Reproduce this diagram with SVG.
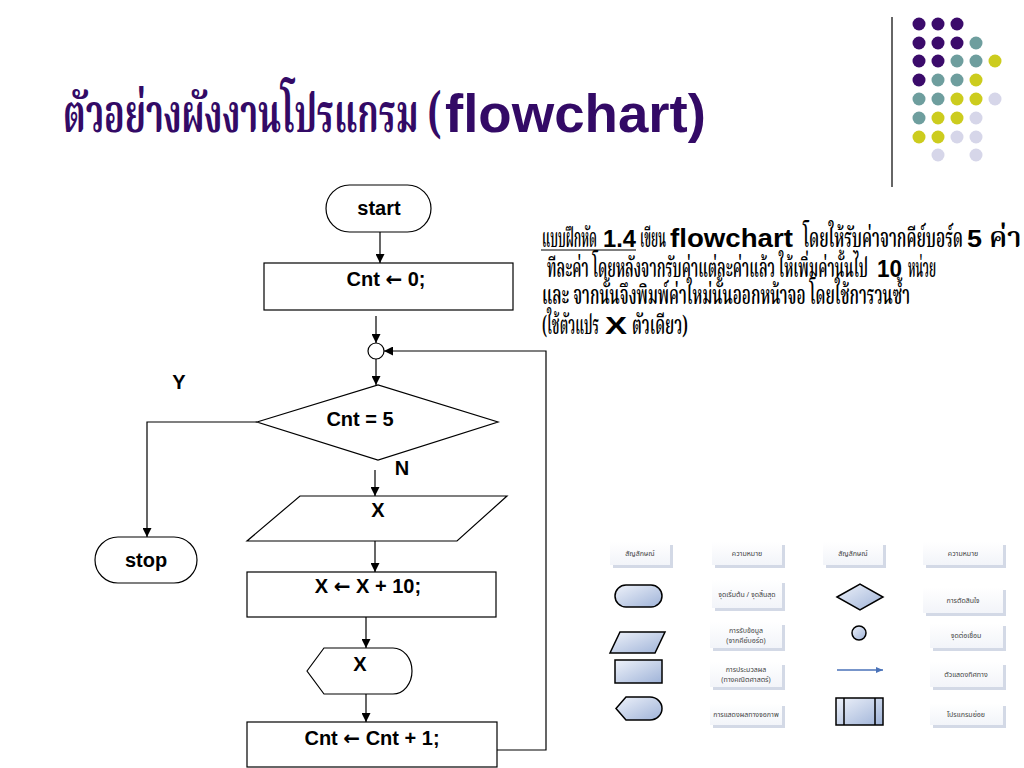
<svg xmlns="http://www.w3.org/2000/svg" width="1024" height="768" viewBox="0 0 1024 768">
<defs>
<marker id="ah" markerUnits="userSpaceOnUse" markerWidth="9" markerHeight="9" refX="9" refY="4.5" orient="auto">
<path d="M0,0 L9,4.5 L0,9 Z" fill="#000"/>
</marker>
<marker id="bh" markerUnits="userSpaceOnUse" markerWidth="7" markerHeight="6" refX="7" refY="3" orient="auto">
<path d="M0,0 L7,3 L0,6 Z" fill="#4a72b8"/>
</marker>
<linearGradient id="sym" x1="0" y1="0" x2="1" y2="1">
<stop offset="0" stop-color="#eef2fa"/>
<stop offset="1" stop-color="#9fb3d8"/>
</linearGradient>
<linearGradient id="box" x1="0" y1="0" x2="0" y2="1">
<stop offset="0" stop-color="#ffffff"/>
<stop offset="1" stop-color="#f2f4f9"/>
</linearGradient>
</defs>
<style>
.fc{fill:#fff;stroke:#000;stroke-width:1.2}
.ln{fill:none;stroke:#000;stroke-width:1.2}
.lbl{font-family:"Liberation Sans",Arial,sans-serif;font-weight:bold;font-size:20px;fill:#000;text-anchor:middle}
.arr{font-family:"DejaVu Sans",sans-serif;font-weight:bold}
.th{font-family:"Noto Serif Thai","Noto Sans Thai","Noto Sans",sans-serif;fill:#000;font-weight:600}
.en{font-family:"Liberation Sans",Arial,sans-serif;font-weight:bold;fill:#000}
.sym{fill:url(#sym);stroke:#000;stroke-width:1.5}
.sh{fill:#d3d9e6}
.bx{fill:url(#box)}
.tt{font-family:"Noto Sans Thai","Noto Serif Thai","Noto Sans",sans-serif;font-size:7px;fill:#444;text-anchor:middle}
.p{fill:#3b0b6b}.t{fill:#6e9e9e}.y{fill:#cccc1e}.l{fill:#d6d6e9}
</style>
<rect width="1024" height="768" fill="#fff"/>

<!-- decoration -->
<g id="decor">
<line x1="892" y1="17" x2="892" y2="187" stroke="#333" stroke-width="1.5"/>
<circle class="p" cx="919" cy="24" r="6.5"/><circle class="p" cx="938" cy="24" r="6.5"/><circle class="p" cx="957" cy="24" r="6.5"/>
<circle class="p" cx="919" cy="43" r="6.5"/><circle class="p" cx="938" cy="43" r="6.5"/><circle class="p" cx="957" cy="43" r="6.5"/><circle class="t" cx="976" cy="43" r="6.5"/>
<circle class="p" cx="919" cy="61" r="6.5"/><circle class="p" cx="938" cy="61" r="6.5"/><circle class="t" cx="957" cy="61" r="6.5"/><circle class="t" cx="976" cy="61" r="6.5"/><circle class="y" cx="995" cy="61" r="6.5"/>
<circle class="p" cx="919" cy="80" r="6.5"/><circle class="t" cx="938" cy="80" r="6.5"/><circle class="t" cx="957" cy="80" r="6.5"/><circle class="y" cx="976" cy="80" r="6.5"/>
<circle class="t" cx="919" cy="99" r="6.5"/><circle class="t" cx="938" cy="99" r="6.5"/><circle class="y" cx="957" cy="99" r="6.5"/><circle class="y" cx="976" cy="99" r="6.5"/><circle class="l" cx="995" cy="99" r="6.5"/>
<circle class="t" cx="919" cy="118" r="6.5"/><circle class="y" cx="938" cy="118" r="6.5"/><circle class="y" cx="957" cy="118" r="6.5"/><circle class="l" cx="976" cy="118" r="6.5"/>
<circle class="y" cx="919" cy="137" r="6.5"/><circle class="y" cx="938" cy="137" r="6.5"/><circle class="l" cx="957" cy="137" r="6.5"/><circle class="l" cx="976" cy="137" r="6.5"/>
<circle class="l" cx="938" cy="155" r="6.5"/><circle class="l" cx="976" cy="155" r="6.5"/>
</g>

<!-- title -->
<g id="title">
<text x="63" y="132" font-family="Noto Serif Thai,Noto Sans Thai,Noto Sans,sans-serif" font-weight="bold" font-size="54" fill="#330a66" textLength="378" lengthAdjust="spacingAndGlyphs">ตัวอย่างผังงานโปรแกรม (</text>
<text x="445" y="132" font-family="Liberation Sans,Arial,sans-serif" font-weight="bold" font-size="54" fill="#330a66" textLength="261" lengthAdjust="spacingAndGlyphs">flowchart)</text>
</g>

<!-- exercise text -->
<g id="exercise">
<text class="th" x="542" y="247" font-size="26" textLength="55" lengthAdjust="spacingAndGlyphs">แบบฝึกหัด</text>
<text class="en" x="603" y="247" font-size="24" textLength="33" lengthAdjust="spacingAndGlyphs">1.4</text>
<line x1="541" y1="250" x2="636" y2="250" stroke="#000" stroke-width="1.2"/>
<text class="th" x="640" y="247" font-size="26" textLength="26" lengthAdjust="spacingAndGlyphs">เขียน</text>
<text class="en" x="670" y="247" font-size="25" textLength="123" lengthAdjust="spacingAndGlyphs">flowchart</text>
<text class="th" x="803" y="247" font-size="26" textLength="160" lengthAdjust="spacingAndGlyphs">โดยให้รับค่าจากคีย์บอร์ด</text>
<text class="en" x="967" y="247" font-size="24" textLength="15" lengthAdjust="spacingAndGlyphs">5</text>
<text class="th" x="989" y="247" font-size="28">ค่า</text>
<text class="th" x="547" y="277" font-size="26" textLength="321" lengthAdjust="spacingAndGlyphs">ทีละค่า โดยหลังจากรับค่าแต่ละค่าแล้ว ให้เพิ่มค่านั้นไป</text>
<text class="en" x="877" y="277" font-size="24" textLength="25" lengthAdjust="spacingAndGlyphs">10</text>
<text class="th" x="908" y="277" font-size="26" textLength="28" lengthAdjust="spacingAndGlyphs">หน่วย</text>
<text class="th" x="542" y="304" font-size="26" textLength="368" lengthAdjust="spacingAndGlyphs">และ จากนั้นจึงพิมพ์ค่าใหม่นั้นออกหน้าจอ โดยใช้การวนซ้ำ</text>
<text class="th" x="542" y="334" font-size="26" textLength="57" lengthAdjust="spacingAndGlyphs">(ใช้ตัวแปร</text>
<text class="en" x="605" y="334" font-size="24" textLength="22" lengthAdjust="spacingAndGlyphs">X</text>
<text class="th" x="632" y="334" font-size="26" textLength="56" lengthAdjust="spacingAndGlyphs">ตัวเดียว)</text>
</g>

<!-- flowchart nodes -->
<g id="start"><rect class="fc" x="326" y="185" width="105" height="47" rx="23.5"/><text class="lbl" x="379" y="215">start</text></g>
<g id="init"><rect class="fc" x="264" y="263" width="249" height="47"/><text class="lbl" x="386" y="286">Cnt <tspan class="arr">←</tspan> 0;</text></g>
<g id="connector"><circle class="fc" cx="376" cy="351" r="8"/></g>
<g id="decision"><path class="fc" d="M257,422 L378,385 L498,422 L378,460 Z"/><text class="lbl" x="360" y="426">Cnt = 5</text></g>
<g id="labelY"><text class="lbl" x="179" y="389">Y</text></g>
<g id="labelN"><text class="lbl" x="402" y="475">N</text></g>
<g id="stop"><rect class="fc" x="95" y="537" width="102" height="46" rx="23"/><text class="lbl" x="146" y="567">stop</text></g>
<g id="input"><path class="fc" d="M300,496 L507,496 L457,541 L247,541 Z"/><text class="lbl" x="378" y="517">X</text></g>
<g id="process"><rect class="fc" x="247" y="572" width="249" height="45"/><text class="lbl" x="368" y="593">X <tspan class="arr">←</tspan> X + 10;</text></g>
<g id="display"><path class="fc" d="M307,671 L324,648 L393,648 A19,23 0 0 1 393,694 L324,694 Z"/><text class="lbl" x="360" y="671">X</text></g>
<g id="increment"><rect class="fc" x="247" y="722" width="250" height="45"/><text class="lbl" x="372" y="745">Cnt <tspan class="arr">←</tspan> Cnt + 1;</text></g>

<!-- connectors -->
<g id="connectors">
<path class="ln" d="M380,232 L380,263" marker-end="url(#ah)"/>
<path class="ln" d="M376,316 L376,343" marker-end="url(#ah)"/>
<path class="ln" d="M376,359 L376,385" marker-end="url(#ah)"/>
<path class="ln" d="M257,422 L147,422 L147,537" marker-end="url(#ah)"/>
<path class="ln" d="M375,470 L375,496" marker-end="url(#ah)"/>
<path class="ln" d="M375,541 L375,572" marker-end="url(#ah)"/>
<path class="ln" d="M366,617 L366,648" marker-end="url(#ah)"/>
<path class="ln" d="M366,694 L366,722" marker-end="url(#ah)"/>
<path class="ln" d="M497,750 L546,750 L546,351 L384,351" stroke="#333" marker-end="url(#ah)"/>
</g>

<!-- symbol legend table -->
<g id="legend">
<rect class="sh" x="613" y="545" width="60" height="23"/><rect class="bx" x="610" y="542" width="60" height="23"/><text class="tt" x="640" y="556">สัญลักษณ์</text>
<rect class="sh" x="715" y="545" width="70" height="23"/><rect class="bx" x="712" y="542" width="70" height="23"/><text class="tt" x="747" y="556">ความหมาย</text>
<rect class="sh" x="826" y="545" width="60" height="23"/><rect class="bx" x="823" y="542" width="60" height="23"/><text class="tt" x="853" y="556">สัญลักษณ์</text>
<rect class="sh" x="926" y="545" width="80" height="23"/><rect class="bx" x="923" y="542" width="80" height="23"/><text class="tt" x="963" y="556">ความหมาย</text>

<rect class="sym" x="615" y="585" width="47" height="22" rx="11"/>
<rect class="sh" x="715" y="583" width="70" height="28"/><rect class="bx" x="712" y="580" width="70" height="28"/><text class="tt" x="747" y="597">จุดเริ่มต้น / จุดสิ้นสุด</text>
<path class="sym" d="M837,597 L860,584 L883,597 L860,610 Z"/>
<rect class="sh" x="926" y="590" width="80" height="26"/><rect class="bx" x="923" y="587" width="80" height="26"/><text class="tt" x="963" y="603">การตัดสินใจ</text>

<path class="sym" d="M620,632 L665,632 L655,653 L610,653 Z"/>
<rect class="sh" x="713" y="625" width="72" height="26"/><rect class="bx" x="710" y="622" width="72" height="26"/><text class="tt" x="746" y="633">การรับข้อมูล</text><text class="tt" x="746" y="643">(จากคีย์บอร์ด)</text>
<circle class="sym" cx="859" cy="633" r="7"/>
<rect class="sh" x="933" y="626" width="73" height="25"/><rect class="bx" x="930" y="623" width="73" height="25"/><text class="tt" x="966" y="638">จุดต่อเชื่อม</text>

<rect class="sym" x="615" y="660" width="47" height="23"/>
<rect class="sh" x="713" y="665" width="72" height="25"/><rect class="bx" x="710" y="662" width="72" height="25"/><text class="tt" x="746" y="672">การประมวลผล</text><text class="tt" x="746" y="682">(ทางคณิตศาสตร์)</text>
<path d="M837,670 L883,670" stroke="#4a72b8" stroke-width="1.3" fill="none" marker-end="url(#bh)"/>
<rect class="sh" x="933" y="665" width="73" height="25"/><rect class="bx" x="930" y="662" width="73" height="25"/><text class="tt" x="966" y="677">ตัวแสดงทิศทาง</text>

<path class="sym" d="M616,708.5 L626,697 L650,697 A12,11.5 0 0 1 650,720 L626,720 Z"/>
<rect class="sh" x="713" y="706" width="72" height="22"/><rect class="bx" x="710" y="703" width="72" height="22"/><text class="tt" x="746" y="717">การแสดงผลทางจอภาพ</text>
<rect class="sym" x="836" y="698" width="47" height="27"/><line x1="844" y1="698" x2="844" y2="725" stroke="#000" stroke-width="1.5"/><line x1="875" y1="698" x2="875" y2="725" stroke="#000" stroke-width="1.5"/>
<rect class="sh" x="933" y="706" width="73" height="22"/><rect class="bx" x="930" y="703" width="73" height="22"/><text class="tt" x="966" y="717">โปรแกรมย่อย</text>
</g>
</svg>
